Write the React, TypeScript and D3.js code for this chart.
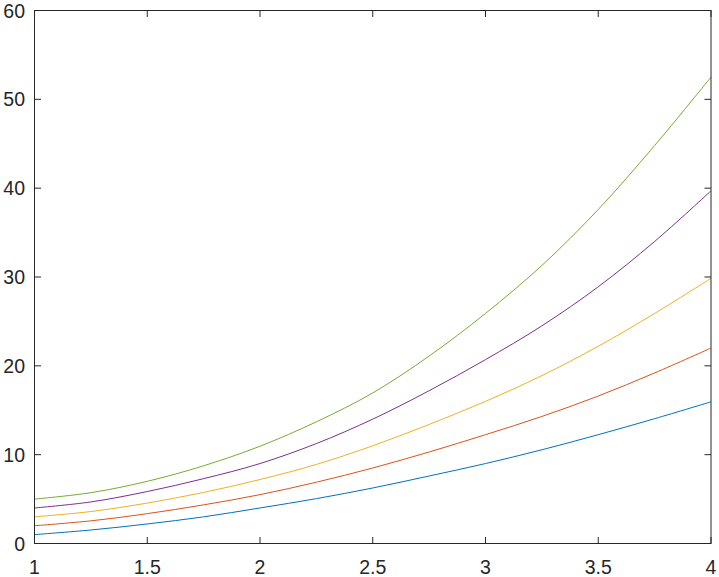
import React from "react";
import * as d3 from "d3";

const xs = [1, 1.25, 1.5, 1.75, 2, 2.25, 2.5, 2.75, 3, 3.25, 3.5, 3.75, 4];
const blue = [1, 1.52, 2.2, 3.0, 4.0, 5.05, 6.25, 7.6, 9.0, 10.55, 12.25, 14.05, 15.95];
const red = [2, 2.55, 3.36, 4.35, 5.5, 6.9, 8.5, 10.3, 12.25, 14.3, 16.6, 19.2, 22.0];
const yellow = [3, 3.6, 4.55, 5.75, 7.2, 8.9, 11.0, 13.4, 16.0, 18.9, 22.2, 25.9, 29.85];
const purple = [4, 4.68, 5.85, 7.3, 9.0, 11.25, 14.0, 17.2, 20.7, 24.5, 28.9, 34.0, 39.7];
const green = [5, 5.72, 7.0, 8.75, 10.95, 13.7, 16.95, 21.1, 25.9, 31.3, 37.6, 44.8, 52.5];

const seriesList = [blue, red, yellow, purple, green];
const colors = ["#0072BD", "#D95319", "#EDB120", "#7E2F8E", "#77AC30"];
const xTicks = [1, 1.5, 2, 2.5, 3, 3.5, 4];
const yTicks = [0, 10, 20, 30, 40, 50, 60];

export default function App() {
  const W = 719, H = 577;
  const L = 34.5, R = 711, T = 10.5, B = 543.5;
  const x = d3.scaleLinear().domain([1, 4]).range([L, R]);
  const y = d3.scaleLinear().domain([0, 60]).range([B, T]);
  const line = d3
    .line<number>()
    .x((_, i) => x(xs[i]))
    .y((d) => y(d))
    .curve(d3.curveCatmullRom.alpha(0.5));
  const tick = 6.5;
  const axisColor = "#262626";
  const font = "'Liberation Sans', Arial, Helvetica, sans-serif";
  return (
    <svg width={W} height={H} style={{ position: "absolute", left: 0, top: 0, background: "#fff" }}>
      <rect x={0} y={0} width={W} height={H} fill="#fff" />
      {seriesList.map((s, i) => (
        <path key={i} d={line(s) || ""} fill="none" stroke={colors[i]} strokeWidth={1} />
      ))}
      <rect x={L} y={T} width={R - L} height={B - T} fill="none" stroke={axisColor} strokeWidth={1} />
      {xTicks.map((t) => (
        <g key={"x" + t}>
          <line x1={x(t)} x2={x(t)} y1={B} y2={B - tick} stroke={axisColor} />
          <line x1={x(t)} x2={x(t)} y1={T} y2={T + tick} stroke={axisColor} />
          <text x={x(t)} y={574} textAnchor="middle" fontFamily={font} fontSize={19.5} fill={axisColor}>
            {String(t)}
          </text>
        </g>
      ))}
      {yTicks.map((t) => (
        <g key={"y" + t}>
          <line x1={L} x2={L + tick} y1={y(t)} y2={y(t)} stroke={axisColor} />
          <line x1={R} x2={R - tick} y1={y(t)} y2={y(t)} stroke={axisColor} />
          <text x={25} y={y(t)} dy="0.36em" textAnchor="end" fontFamily={font} fontSize={19.5} fill={axisColor}>
            {String(t)}
          </text>
        </g>
      ))}
    </svg>
  );
}
